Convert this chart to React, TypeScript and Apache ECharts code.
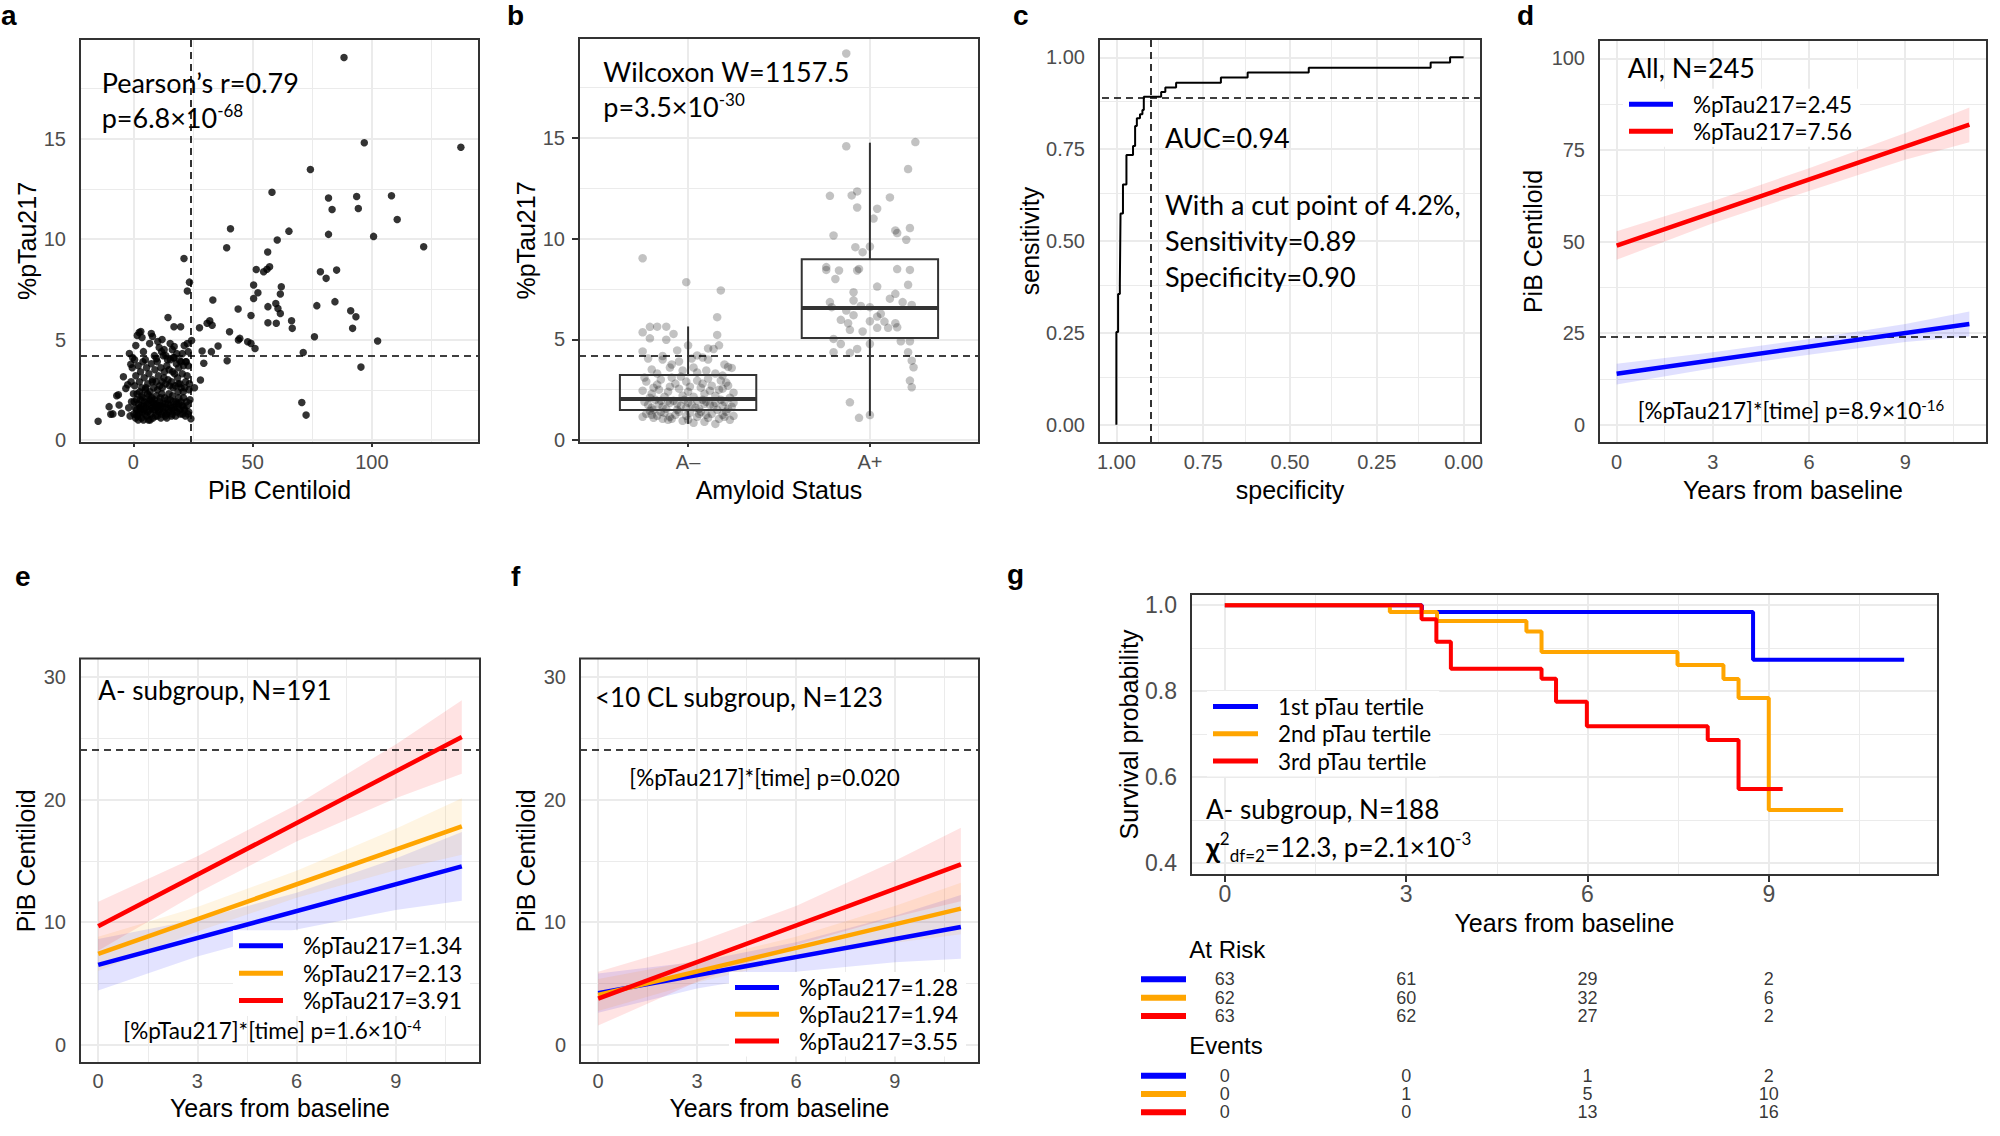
import React, { useEffect, useRef } from "react";
import * as echarts from "echarts";

const SANS = "'Liberation Sans', Arial, Helvetica, sans-serif";
const CAL = "Lato, 'Open Sans', 'DejaVu Sans', sans-serif";
const BLUE = "#0000ff";
const ORANGE = "#ffa500";
const RED = "#ff0000";
const GRIDC = "#ebebeb";

// ================= Panel a: %pTau217 vs PiB Centiloid =================
const pibVsPtau: number[][] = [
  // low cluster
  [0.2,1.3],[0.8,1.6],[1.3,2.0],[1.7,1.2],[2.1,1.8],[2.6,2.4],[3.0,1.5],[3.4,1.1],[3.9,2.1],[4.3,1.7],[4.8,1.3],[5.2,2.6],[5.7,1.9],[6.1,1.4],[6.6,2.2],[7.0,1.0],[7.4,1.7],[7.9,2.9],[8.3,1.5],[8.8,2.0],[9.2,1.2],[9.7,1.8],[10.1,2.5],[10.6,1.4],[11.0,1.9],[11.5,1.1],[11.9,2.3],[12.4,1.6],[12.8,3.1],[13.3,1.8],[13.7,1.3],[14.2,2.0],[14.6,1.5],[15.1,2.7],[15.5,1.7],[16.0,1.2],[16.4,2.2],[16.9,1.6],[17.3,3.3],[17.8,1.9],[18.2,1.4],[18.7,2.4],[19.1,1.8],[19.6,1.3],[20.0,2.6],[20.5,1.7],[21.0,2.1],[21.4,1.5],[21.9,2.9],[22.3,1.9],[22.8,1.3],[23.3,2.5],[23.7,2.0],[24.1,1.06],
  [0.5,2.7],[1.0,3.2],[1.5,2.3],[2.0,3.7],[2.5,2.9],[3.0,3.4],[3.5,2.6],[4.0,3.9],[4.5,3.1],[5.0,2.5],[5.5,3.6],[6.0,2.8],[6.5,3.3],[7.0,2.4],[7.5,3.8],[8.0,3.0],[8.5,2.6],[9.0,3.5],[9.5,2.9],[10.0,3.9],[10.5,3.2],[11.0,2.7],[11.5,3.6],[12.0,2.9],[12.5,4.2],[13.0,3.4],[13.5,2.8],[14.0,3.7],[14.5,3.0],[15.0,3.5],[15.5,4.0],[16.0,2.9],[16.5,3.4],[17.0,4.1],[17.5,2.7],[18.0,3.8],[18.5,3.1],[19.0,3.6],[19.5,2.8],[20.0,3.9],[20.5,3.3],[21.0,3.7],[21.5,2.6],[22.0,3.9],[22.5,3.2],[23.0,3.7],[23.5,2.8],
  [0.3,1.9],[0.9,1.1],[1.4,1.5],[2.0,1.0],[2.4,1.3],[2.9,2.0],[3.3,1.7],[3.8,1.4],[4.2,1.0],[4.7,1.9],[5.1,1.6],[5.6,1.2],[6.0,1.8],[6.5,1.5],[6.9,2.0],[7.3,1.3],[7.8,1.6],[8.2,1.1],[8.7,1.8],[9.1,1.5],[9.6,2.2],[10.0,1.2],[10.4,1.7],[10.9,1.5],[11.3,2.1],[11.8,1.3],[12.2,1.8],[12.7,1.4],[13.1,2.1],[13.6,1.6],[14.0,1.1],[14.5,1.8],[15.0,1.4],[15.4,2.0],[15.9,1.6],[16.3,1.3],[16.8,1.9],[17.2,1.5],[17.7,1.2],[18.1,1.8],[18.6,1.6],[19.0,2.1],[19.5,1.5],[20.0,1.9],[20.6,1.3],[21.2,1.6],[21.8,1.2],[22.5,1.7],[23.2,1.4],[1.2,1.3],[2.7,1.6],[4.5,1.5],[6.3,1.0],[8.0,1.9],[9.9,1.6],[11.6,1.7],[13.4,1.2],[5.9,2.3],[3.6,2.2],[7.7,2.1],[12.1,2.6],[14.9,2.3],[16.6,2.6],[18.9,2.8],[20.9,2.4],[0.0,2.3],[-0.5,3.6],
  [-10.2,1.66],[-9.5,1.28],[-8.6,1.3],[-7.0,2.2],[-6.0,1.74],[-6.3,2.25],[-5.0,1.33],[-4.2,3.15],[-3.2,2.57],[-2.4,2.75],[-1.7,4.31],[-1.1,3.77],[-1.4,1.2],[-0.8,1.9],[-2.0,1.6],[-1.0,2.9],[-0.3,4.1],
  [0.5,4.0],[1.0,4.7],[1.6,5.2],[2.4,5.35],[3.1,5.4],[3.6,5.1],[4.2,4.4],[5.0,4.0],[7.5,5.3],[8.0,5.15],[6.8,4.8],[8.8,4.2],[9.6,4.05],[10.8,4.6],[11.8,4.4],[12.9,4.5],[13.6,4.2],[15.4,4.8],[16.3,4.5],[17.1,4.65],[16.8,4.1],[18.2,4.3],[19.4,3.95],[21.3,4.7],[22.1,3.9],[22.6,4.8],[24.4,4.95],[20.5,4.3],[23.0,4.4],[14.3,4.0],[12.0,5.0],[10.2,4.9],
  // upper / right
  [88.3,19.05],[96.8,14.8],[137.3,14.58],[74.2,13.47],[58.1,12.34],[81.8,12.05],[93.6,12.13],[108.2,12.16],[83.3,11.48],[94.3,11.53],[110.6,10.98],[40.7,10.52],[65.2,10.4],[81.8,10.24],[100.7,10.14],[60.3,9.96],[39.1,9.57],[121.7,9.62],[56.3,9.36],[21.2,9.04],[78.4,8.38],[85.2,8.46],[80.8,8.05],[51.5,8.49],[54.6,8.38],[56,8.5],[57.1,8.63],[23.5,7.86],[22.6,7.42],[50.4,7.72],[52.2,7.33],[50.4,7.05],[62,7.63],[61.6,7.27],[33.3,6.97],[76.9,6.69],[84.5,6.89],[56.4,6.64],[59.7,6.8],[60.6,6.55],[61.6,6.3],[43.9,6.52],[49.3,6.2],[91.1,6.44],[93.3,6.14],[14.5,6.1],[66.3,5.94],[66.6,5.56],[56.4,5.84],[59.9,5.81],[91.9,5.56],[17,5.64],[19.8,5.64],[27.7,5.59],[30.9,5.81],[32,5.94],[33,5.72],[40.3,5.39],[44,4.98],[44.6,5.06],[47.9,4.89],[49.3,4.81],[51,4.56],[75.9,5.14],[102.4,4.93],[71.2,4.36],[28.8,4.43],[32.7,4.4],[35.5,4.68],[29.5,3.82],[39.3,3.95],[95.4,3.63],[28.1,2.99],[25.6,2.6],[70.6,1.87],[72.4,1.24],[-14.8,0.93]
];
const ptauCut = 4.2;
const pibCut = 24;

// ================= Panel b: boxplot by amyloid status =================
const amyloidCats = ["A–", "A+"];
// [jitter offset from category, %pTau217]
const jitterNeg: number[][] = [
  [-0.25,9.03],[-0.01,7.84],[0.18,7.43],[0.16,6.1],[0.16,5.22],[-0.21,5.62],[-0.17,5.63],[-0.12,5.63],[-0.25,5.35],[-0.21,5.05],[-0.12,4.98],[-0.08,5.27],[0.0,4.7],[0.17,4.7],[0.14,4.52],[-0.25,4.4],[0.11,4.55],[-0.22,4.05],[-0.14,4.17],[-0.14,4.0],[-0.05,3.9],[0.05,4.2],[0.08,4.1],[0.11,4.0],[0.2,3.75],[0.24,3.58],[0.22,3.63],[-0.2,3.5],[-0.17,3.3],[-0.1,3.6],[-0.03,3.45],[0.03,3.6],[0.1,3.45],[0.15,3.3],[0.19,3.2],[-0.24,3.1],[0.05,3.35],[-0.06,4.45],[0.02,4.05],[-0.09,3.75],
  [-0.23,2.9],[-0.19,2.6],[-0.15,3.0],[-0.11,2.4],[-0.07,2.8],[-0.03,2.2],[0.01,2.65],[0.05,2.95],[0.09,2.3],[0.13,2.7],[0.17,2.5],[0.21,2.85],[0.25,2.35],[-0.25,2.45],[-0.21,2.1],[-0.17,2.75],[-0.13,2.15],[-0.09,3.1],[-0.05,2.55],[-0.01,2.9],[0.03,2.15],[0.07,2.6],[0.11,3.05],[0.15,2.2],[0.19,2.55],[0.23,2.1],[-0.2,2.3],[-0.1,2.65],[0.0,2.4],[0.08,2.8],[0.18,2.95],[-0.16,2.5],[0.12,2.45],[-0.04,3.15],[0.22,2.7],
  [-0.24,1.9],[-0.2,1.6],[-0.16,1.8],[-0.12,1.55],[-0.08,1.95],[-0.04,1.7],[0.0,1.85],[0.04,1.6],[0.08,2.0],[0.12,1.75],[0.16,1.5],[0.2,1.9],[0.24,1.65],[-0.22,1.75],[-0.18,2.0],[-0.14,1.65],[-0.1,1.85],[-0.06,1.5],[-0.02,2.0],[0.02,1.75],[0.06,1.55],[0.1,1.9],[0.14,1.7],[0.18,2.0],[0.22,1.55],[-0.19,1.5],[-0.11,1.95],[-0.01,1.6],[0.09,1.8],[0.19,1.7],[-0.06,1.8],[0.05,1.95],[0.15,1.85],[-0.15,1.95],[0.25,1.85],
  [-0.23,1.3],[-0.19,1.1],[-0.15,1.4],[-0.11,1.0],[-0.07,1.25],[-0.03,0.95],[0.01,1.35],[0.05,1.15],[0.09,0.9],[0.13,1.3],[0.17,1.05],[0.21,1.4],[0.25,1.2],[-0.25,1.15],[-0.21,1.45],[-0.17,1.2],[-0.13,1.35],[-0.09,1.05],[-0.05,1.4],[-0.01,1.2],[0.03,0.85],[0.07,1.4],[0.11,1.1],[0.15,0.8],[0.19,1.25],[0.23,1.0],[-0.2,1.25],[-0.1,1.15],[0.0,1.0],[0.1,1.25],[0.2,1.15],[-0.14,1.05],[0.06,1.3]
];
const jitterPos: number[][] = [
  [-0.13,19.2],[-0.13,14.59],[0.25,14.8],[0.21,13.46],[-0.22,12.13],[-0.1,12.15],[-0.07,12.35],[0.11,12.05],[-0.07,11.55],[0.04,11.49],[0.02,11.0],[-0.2,10.16],[0.14,10.41],[0.15,10.28],[0.22,10.53],[0.2,9.95],[-0.08,9.58],[-0.04,9.33],[0.0,9.61],[-0.24,8.59],[-0.24,8.45],[-0.17,8.42],[-0.07,8.42],[-0.06,8.5],[0.15,8.49],[0.22,8.45],[-0.19,8.0],[0.04,7.62],[0.21,7.71],[-0.09,7.34],[0.14,7.26],[0.11,7.02],[0.18,6.85],[0.23,6.71],[-0.22,6.85],[-0.09,6.93],[-0.21,6.6],[-0.05,6.66],[0.0,6.6],[-0.13,6.43],[-0.09,6.2],[0.06,6.27],[0.04,6.13],[-0.16,5.97],[-0.12,5.8],[0.0,5.9],[0.08,5.88],[0.14,5.8],[-0.11,5.47],[-0.04,5.39],[0.04,5.57],[0.1,5.57],[0.15,5.6],[-0.2,5.02],[-0.16,4.77],[0.0,4.77],[0.17,4.9],[0.22,4.9],[-0.2,4.36],[-0.11,4.33],[-0.07,4.52],[0.21,4.36],[0.23,3.94],[0.24,3.61],[0.22,2.95],[0.23,2.62],[-0.11,1.87],[-0.06,1.1],[0.0,1.24]
];
// [lower whisker, Q1, median, Q3, upper whisker]
const boxNeg = [0.8, 1.49, 2.04, 3.23, 5.64];
const boxPos = [1.2, 5.07, 6.56, 8.98, 14.77];

// ================= Panel c: ROC =================
const rocSpec = [1, 1, 0.995, 0.99, 0.988, 0.981, 0.971, 0.952, 0.946, 0.941, 0.932, 0.925, 0.921, 0.871, 0.859, 0.828, 0.699, 0.622, 0.446, 0.095, 0.039, 0];
const rocSens = [0, 0.252, 0.356, 0.384, 0.575, 0.654, 0.734, 0.759, 0.813, 0.834, 0.845, 0.857, 0.893, 0.906, 0.918, 0.931, 0.945, 0.959, 0.972, 0.986, 1, 1];
const specCut = 0.9;
const sensCut = 0.89;

// ================= Panels d, e, f: PiB trajectories =================
const lineTimes = [0, 11];
const bandTimes = [0, 3, 6, 9, 11];
const amyCut = 24.1;
// d
const dBlueLine = [13.9, 27.5];
const dBlueLo = [11, 15.4, 19.1, 22.6, 24.1];
const dBlueHi = [16.6, 19.8, 23.4, 27.5, 30.9];
const dRedLine = [48.9, 81.9];
const dRedLo = [45, 55, 63.8, 72.3, 77.1];
const dRedHi = [52.8, 61, 70, 79.6, 86.6];
// e
const eBlueLine = [6.51, 14.55];
const eBlueLo = [4.41, 7.2, 9.4, 10.99, 11.75];
const eBlueHi = [8.61, 10.2, 12.4, 15.19, 17.35];
const eOrangeLine = [7.41, 17.8];
const eOrangeLo = [6.01, 9.24, 11.98, 14.22, 15.5];
const eOrangeHi = [8.81, 11.24, 14.18, 17.62, 20.1];
const eRedLine = [9.66, 25.1];
const eRedLo = [7.66, 12.37, 16.58, 20.1, 22.1];
const eRedHi = [11.66, 15.37, 19.58, 24.5, 28.1];
// f
const fBlueLine = [4.2, 9.6];
const fBlueLo = [2.6, 4.57, 5.95, 6.72, 7.0];
const fBlueHi = [5.8, 6.77, 8.35, 10.52, 12.2];
const fOrangeLine = [4.05, 11.1];
const fOrangeLo = [2.75, 5.07, 7.0, 8.32, 9.0];
const fOrangeHi = [5.35, 6.87, 8.8, 11.32, 13.2];
const fRedLine = [3.75, 14.7];
const fRedLo = [1.55, 5.14, 8.12, 10.41, 11.7];
const fRedHi = [5.95, 8.34, 11.32, 15.01, 17.7];

// ================= Panel g: Kaplan-Meier =================
const km1T = [0, 3.26, 8.74, 11.24];
const km1S = [1, 0.984, 0.873, 0.873];
const km2T = [0, 2.73, 3.51, 4.99, 5.24, 7.49, 8.25, 8.5, 9.0, 10.23];
const km2S = [1, 0.984, 0.963, 0.939, 0.891, 0.861, 0.828, 0.784, 0.523, 0.523];
const km3T = [0, 3.255, 3.5, 3.74, 5.24, 5.48, 5.99, 7.99, 8.5, 9.23];
const km3S = [1, 0.967, 0.915, 0.852, 0.829, 0.775, 0.718, 0.686, 0.572, 0.572];
const riskTimes = [0, 3, 6, 9];
const atRisk1 = [63, 61, 29, 2];
const atRisk2 = [62, 60, 32, 6];
const atRisk3 = [63, 62, 27, 2];
const events1 = [0, 0, 1, 2];
const events2 = [0, 1, 5, 10];
const events3 = [0, 0, 13, 16];

// ================= helpers =================
const zip = (a: number[], b: number[]) => a.map((v, i) => [v, b[i]]);

const TABLE_ROW_H = 18.3;
const RISK_TOP = 970.2;
const EVENTS_TOP = 1066.5;

const panels: any[] = [
  { grid: { left: 80, top: 39, width: 399, height: 404 },
    x: { min: -22.4, max: 144.9, ticks: [0, 50, 100], minor: [25, 75, 125], name: "PiB Centiloid", gap: 34 },
    y: { min: -0.15, max: 19.97, ticks: [0, 5, 10, 15], minor: [2.5, 7.5, 12.5, 17.5], name: "%pTau217", gap: 40 } },
  { grid: { left: 579, top: 38, width: 400, height: 405 },
    x: { min: 0.4, max: 2.6, ticks: [1, 2], minor: [], name: "Amyloid Status", gap: 34, fmt: (v: number) => amyloidCats[Math.round(v) - 1] },
    y: { min: -0.15, max: 19.97, ticks: [0, 5, 10, 15], minor: [2.5, 7.5, 12.5, 17.5], name: "%pTau217", gap: 40 } },
  { grid: { left: 1099, top: 39, width: 382, height: 404 },
    x: { min: -0.05, max: 1.05, inverse: true, ticks: [0, 0.25, 0.5, 0.75, 1], minor: [0.125, 0.375, 0.625, 0.875], name: "specificity", gap: 34, fmt: (v: number) => v.toFixed(2) },
    y: { min: -0.05, max: 1.05, ticks: [0, 0.25, 0.5, 0.75, 1], minor: [0.125, 0.375, 0.625, 0.875], name: "sensitivity", gap: 56, fmt: (v: number) => v.toFixed(2) } },
  { grid: { left: 1599, top: 40, width: 388, height: 403 },
    x: { min: -0.55, max: 11.55, ticks: [0, 3, 6, 9], minor: [1.5, 4.5, 7.5, 10.5], name: "Years from baseline", gap: 34 },
    y: { min: -5, max: 105, ticks: [0, 25, 50, 75, 100], minor: [12.5, 37.5, 62.5, 87.5], name: "PiB Centiloid", gap: 54 } },
  { grid: { left: 80, top: 658.6, width: 400, height: 404.4 }, margin: 8,
    x: { min: -0.55, max: 11.55, ticks: [0, 3, 6, 9], minor: [1.5, 4.5, 7.5, 10.5], name: "Years from baseline", gap: 32 },
    y: { min: -1.5, max: 31.5, ticks: [0, 10, 20, 30], minor: [5, 15, 25], name: "PiB Centiloid", gap: 42 } },
  { grid: { left: 580, top: 658.6, width: 399, height: 404.4 }, margin: 8,
    x: { min: -0.55, max: 11.55, ticks: [0, 3, 6, 9], minor: [1.5, 4.5, 7.5, 10.5], name: "Years from baseline", gap: 32 },
    y: { min: -1.5, max: 31.5, ticks: [0, 10, 20, 30], minor: [5, 15, 25], name: "PiB Centiloid", gap: 42 } },
  { grid: { left: 1191, top: 594, width: 747, height: 281 }, font: 23, margin: 7,
    x: { min: -0.56, max: 11.8, ticks: [0, 3, 6, 9], minor: [1.5, 4.5, 7.5, 10.5], name: "Years from baseline", gap: 35 },
    y: { min: 0.372, max: 1.026, ticks: [0.4, 0.6, 0.8, 1.0], minor: [0.5, 0.7, 0.9], name: "Survival probability", gap: 50, fmt: (v: number) => v.toFixed(1) } },
];

function makeAxis(i: number, a: any, font: number, margin: number) {
  const fmt = a.fmt || ((v: number) => String(v));
  return {
    type: "value", gridIndex: i, min: a.min, max: a.max, inverse: !!a.inverse,
    splitLine: { show: false },
    axisLine: { show: false },
    axisTick: { show: true, length: 7, lineStyle: { color: "#333", width: 2 }, customValues: a.ticks },
    axisLabel: {
      show: true, customValues: a.ticks, color: "#4d4d4d", fontSize: font, fontFamily: SANS, margin,
      formatter: (v: number) => (a.ticks.some((t: number) => Math.abs(t - v) < 1e-9) ? fmt(v) : ""),
    },
    name: a.name, nameLocation: "middle", nameGap: a.gap,
    nameTextStyle: { fontFamily: SANS, fontSize: 25, color: "#000" },
  };
}

function gridLines(i: number, p: any) {
  const d: any[] = [];
  p.x.ticks.forEach((v: number) => d.push({ xAxis: v, lineStyle: { color: GRIDC, width: 2, type: "solid" } }));
  p.x.minor.forEach((v: number) => d.push({ xAxis: v, lineStyle: { color: GRIDC, width: 1, type: "solid" } }));
  p.y.ticks.forEach((v: number) => d.push({ yAxis: v, lineStyle: { color: GRIDC, width: 2, type: "solid" } }));
  p.y.minor.forEach((v: number) => d.push({ yAxis: v, lineStyle: { color: GRIDC, width: 1, type: "solid" } }));
  return {
    type: "line", xAxisIndex: i, yAxisIndex: i, silent: true, z: 1,
    data: [[p.x.ticks[0], p.y.ticks[0]]], showSymbol: false, lineStyle: { width: 0 },
    markLine: { z: 1, silent: true, symbol: ["none", "none"], label: { show: false }, emphasis: { disabled: true }, data: d },
  };
}

function refLines(i: number, xs: number[], ys: number[]) {
  const d: any[] = [];
  xs.forEach((v) => d.push({ xAxis: v }));
  ys.forEach((v) => d.push({ yAxis: v }));
  return {
    type: "line", xAxisIndex: i, yAxisIndex: i, silent: true, z: 3,
    data: [[xs.length ? xs[0] : 0, ys.length ? ys[0] : 0]], showSymbol: false, lineStyle: { width: 0 },
    markLine: {
      z: 3, silent: true, symbol: ["none", "none"], label: { show: false }, emphasis: { disabled: true },
      lineStyle: { color: "#000", type: [7, 5], width: 1.6 }, data: d,
    },
  };
}

function band(i: number, lo: number[], hi: number[], color: string) {
  return {
    type: "custom", xAxisIndex: i, yAxisIndex: i, silent: true, z: 2, clip: true,
    data: [[bandTimes[0], lo[0]]],
    renderItem: (_params: any, api: any) => {
      const pts: number[][] = [];
      bandTimes.forEach((t, k) => pts.push(api.coord([t, hi[k]])));
      for (let k = bandTimes.length - 1; k >= 0; k--) pts.push(api.coord([bandTimes[k], lo[k]]));
      return { type: "polygon", shape: { points: pts }, style: { fill: color } };
    },
  };
}

function fitLine(i: number, name: string, vals: number[], color: string) {
  return {
    type: "line", name, xAxisIndex: i, yAxisIndex: i, z: 4, silent: true,
    data: zip(lineTimes, vals), showSymbol: false, symbol: "none",
    lineStyle: { width: 4.5, color }, itemStyle: { color, borderWidth: 0 },
  };
}

function kmLine(name: string, t: number[], s: number[], color: string) {
  return {
    type: "line", name, xAxisIndex: 6, yAxisIndex: 6, z: 4, silent: true, step: "end",
    data: zip(t, s), showSymbol: false, symbol: "none",
    lineStyle: { width: 4, color }, itemStyle: { color, borderWidth: 0 },
  };
}

function tableSeries(i: number, rows: number[][]) {
  const data: number[][] = [];
  rows.forEach((row, r) => row.forEach((n, k) => data.push([riskTimes[k], r, n])));
  return {
    type: "scatter", xAxisIndex: i, yAxisIndex: i, silent: true, symbolSize: 1,
    itemStyle: { color: "rgba(0,0,0,0)" }, data,
    label: { show: true, position: "inside", formatter: (p: any) => String(p.value[2]), fontFamily: SANS, fontSize: 18, lineHeight: 18, color: "#000" },
  };
}

function legendCfg(names: string[], colors: string[], left: number, top: number, lh: number, iw: number) {
  return {
    data: names.map((n, k) => ({ name: n, itemStyle: { color: colors[k], borderWidth: 0, opacity: 1 } })),
    left: left - 6, top: top - 2, orient: "vertical", padding: [2, 8, 2, 6], itemGap: 0, itemWidth: iw, itemHeight: 5,
    icon: "rect", selectedMode: false, backgroundColor: "#ffffff", z: 8,
    itemStyle: { borderWidth: 0 },
    textStyle: { fontFamily: CAL, fontSize: 22.5, color: "#000", lineHeight: lh, padding: [0, 0, 0, 15] },
  };
}

function txt(x: number, y: number, text: string, size: number, family = CAL, rich?: any, weight = "normal") {
  return {
    type: "text", x, y, z: 50, silent: true,
    style: { text, fontSize: size, fontFamily: family, fontWeight: weight, fill: "#000", align: "left", verticalAlign: "middle", rich },
  };
}

function supRich(size: number, lh: number, supSize: number) {
  return {
    n: { fontFamily: CAL, fontSize: size, lineHeight: lh, verticalAlign: "middle", color: "#000" },
    s: { fontFamily: CAL, fontSize: supSize, lineHeight: Math.round(lh * 0.62), verticalAlign: "top", color: "#000" },
  };
}

function buildOption() {
  const grids: any[] = panels.map((p) => ({ ...p.grid, show: true, borderColor: "#333", borderWidth: 2, backgroundColor: "transparent", z: 6 }));
  grids.push({ left: 1191, width: 747, top: RISK_TOP, height: TABLE_ROW_H * 3, show: false });
  grids.push({ left: 1191, width: 747, top: EVENTS_TOP, height: TABLE_ROW_H * 3, show: false });

  const xAxis: any[] = panels.map((p, i) => makeAxis(i, p.x, p.font || 20, p.margin || 9));
  const yAxis: any[] = panels.map((p, i) => makeAxis(i, p.y, p.font || 20, 14));
  [7, 8].forEach((gi) => {
    xAxis.push({ type: "value", gridIndex: gi, min: -0.56, max: 11.8, show: false });
    yAxis.push({ type: "category", gridIndex: gi, data: ["1", "2", "3"], inverse: true, show: false });
  });

  const series: any[] = [];
  panels.forEach((p, i) => series.push(gridLines(i, p)));

  // a
  series.push(refLines(0, [pibCut], [ptauCut]));
  series.push({ type: "scatter", xAxisIndex: 0, yAxisIndex: 0, z: 4, silent: true, symbolSize: 7.5, itemStyle: { color: "#000" }, data: pibVsPtau });

  // b
  series.push(refLines(1, [], [ptauCut]));
  series.push({
    type: "scatter", xAxisIndex: 1, yAxisIndex: 1, z: 3, silent: true, symbolSize: 8.5,
    itemStyle: { color: "rgba(0,0,0,0.3)" },
    data: [...jitterNeg.map(([o, v]) => [1 + o, v]), ...jitterPos.map(([o, v]) => [2 + o, v])],
  });
  series.push({
    type: "custom", xAxisIndex: 1, yAxisIndex: 1, z: 4, silent: true,
    data: [[1, ...boxNeg], [2, ...boxPos]],
    encode: { x: 0, y: [1, 2, 3, 4, 5] },
    renderItem: (_params: any, api: any) => {
      const x = api.value(0);
      const hw = 0.375;
      const [xl, yq3] = api.coord([x - hw, api.value(4)]);
      const [xr, yq1] = api.coord([x + hw, api.value(2)]);
      const [xc, ylo] = api.coord([x, api.value(1)]);
      const yhi = api.coord([x, api.value(5)])[1];
      const ymed = api.coord([x, api.value(3)])[1];
      const st = { stroke: "#333", lineWidth: 2, fill: "none" };
      return {
        type: "group",
        children: [
          { type: "line", shape: { x1: xc, y1: yhi, x2: xc, y2: yq3 }, style: st },
          { type: "line", shape: { x1: xc, y1: yq1, x2: xc, y2: ylo }, style: st },
          { type: "rect", shape: { x: xl, y: yq3, width: xr - xl, height: yq1 - yq3 }, style: st },
          { type: "line", shape: { x1: xl, y1: ymed, x2: xr, y2: ymed }, style: { stroke: "#333", lineWidth: 4 } },
        ],
      };
    },
  });

  // c
  series.push(refLines(2, [specCut], [sensCut]));
  series.push({
    type: "line", xAxisIndex: 2, yAxisIndex: 2, z: 4, silent: true, step: "end",
    data: zip(rocSpec, rocSens), showSymbol: false, symbol: "none", lineStyle: { width: 2, color: "#000" },
  });

  // d
  series.push(band(3, dBlueLo, dBlueHi, "rgba(0,0,255,0.12)"));
  series.push(band(3, dRedLo, dRedHi, "rgba(255,0,0,0.12)"));
  series.push(refLines(3, [], [amyCut]));
  series.push(fitLine(3, "%pTau217=2.45", dBlueLine, BLUE));
  series.push(fitLine(3, "%pTau217=7.56", dRedLine, RED));

  // e
  series.push(band(4, eBlueLo, eBlueHi, "rgba(0,0,255,0.11)"));
  series.push(band(4, eOrangeLo, eOrangeHi, "rgba(255,165,0,0.11)"));
  series.push(band(4, eRedLo, eRedHi, "rgba(255,0,0,0.11)"));
  series.push(refLines(4, [], [amyCut]));
  series.push(fitLine(4, "%pTau217=1.34", eBlueLine, BLUE));
  series.push(fitLine(4, "%pTau217=2.13", eOrangeLine, ORANGE));
  series.push(fitLine(4, "%pTau217=3.91", eRedLine, RED));

  // f
  series.push(band(5, fBlueLo, fBlueHi, "rgba(0,0,255,0.11)"));
  series.push(band(5, fOrangeLo, fOrangeHi, "rgba(255,165,0,0.11)"));
  series.push(band(5, fRedLo, fRedHi, "rgba(255,0,0,0.11)"));
  series.push(refLines(5, [], [amyCut]));
  series.push(fitLine(5, "%pTau217=1.28", fBlueLine, BLUE));
  series.push(fitLine(5, "%pTau217=1.94", fOrangeLine, ORANGE));
  series.push(fitLine(5, "%pTau217=3.55", fRedLine, RED));

  // g
  series.push(kmLine("1st pTau tertile", km1T, km1S, BLUE));
  series.push(kmLine("2nd pTau tertile", km2T, km2S, ORANGE));
  series.push(kmLine("3rd pTau tertile", km3T, km3S, RED));
  series.push(tableSeries(7, [atRisk1, atRisk2, atRisk3]));
  series.push(tableSeries(8, [events1, events2, events3]));

  const legend = [
    legendCfg(["%pTau217=2.45", "%pTau217=7.56"], [BLUE, RED], 1629, 90.8, 27, 44),
    legendCfg(["%pTau217=1.34", "%pTau217=2.13", "%pTau217=3.91"], [BLUE, ORANGE, RED], 239, 932.2, 27.3, 44),
    legendCfg(["%pTau217=1.28", "%pTau217=1.94", "%pTau217=3.55"], [BLUE, ORANGE, RED], 735, 974, 26.8, 44),
    legendCfg(["1st pTau tertile", "2nd pTau tertile", "3rd pTau tertile"], [BLUE, ORANGE, RED], 1213, 693, 27.2, 45),
  ];

  const big = supRich(27, 30, 17);
  const small = supRich(22.5, 26, 15);
  const chiRich = {
    c: { fontFamily: CAL, fontSize: 28, fontWeight: "bold", lineHeight: 34, verticalAlign: "middle", color: "#000" },
    n: { fontFamily: CAL, fontSize: 26, lineHeight: 34, verticalAlign: "middle", color: "#000" },
    s: { fontFamily: CAL, fontSize: 17, lineHeight: 20, verticalAlign: "top", color: "#000" },
    b: { fontFamily: CAL, fontSize: 17, lineHeight: 16, verticalAlign: "bottom", color: "#000" },
  };

  const rowY = (top: number, r: number) => top + TABLE_ROW_H * (r + 0.5);
  const tableRects: any[] = [];
  [RISK_TOP, EVENTS_TOP].forEach((top) =>
    [BLUE, ORANGE, RED].forEach((c, r) =>
      tableRects.push({ type: "rect", x: 1141, y: rowY(top, r) - 3, shape: { width: 45, height: 6 }, style: { fill: c }, silent: true })
    )
  );

  const graphic: any[] = [
    txt(1, 15, "a", 28, SANS, undefined, "bold"),
    txt(507, 15, "b", 28, SANS, undefined, "bold"),
    txt(1013, 15, "c", 28, SANS, undefined, "bold"),
    txt(1517, 15, "d", 28, SANS, undefined, "bold"),
    txt(15, 576, "e", 28, SANS, undefined, "bold"),
    txt(511, 576, "f", 28, SANS, undefined, "bold"),
    txt(1007, 574, "g", 28, SANS, undefined, "bold"),

    txt(101.7, 82.5, "Pearson’s r=0.79", 27),
    txt(101.7, 117, "{n|p=6.8×10}{s|-68}", 27, CAL, big),
    txt(603.3, 71, "Wilcoxon W=1157.5", 27),
    txt(603.3, 106, "{n|p=3.5×10}{s|-30}", 27, CAL, big),
    txt(1165, 137.7, "AUC=0.94", 27),
    txt(1165, 204, "With a cut point of 4.2%,", 27),
    txt(1165, 240, "Sensitivity=0.89", 27),
    txt(1165, 276, "Specificity=0.90", 27),
    txt(1627.7, 67.3, "All, N=245", 27),
    txt(1637.7, 410, "{n|[%pTau217]*[time] p=8.9×10}{s|-16}", 22.5, CAL, small),
    txt(98.3, 690, "A- subgroup, N=191", 26),
    txt(123.3, 1030, "{n|[%pTau217]*[time] p=1.6×10}{s|-4}", 22.5, CAL, small),
    txt(595, 697, "<10 CL subgroup, N=123", 26),
    txt(629.3, 777, "[%pTau217]*[time] p=0.020", 22.5),
    txt(1206, 809.3, "A- subgroup, N=188", 26),
    txt(1206, 846.7, "{c|χ}{s|2}{b|df=2}{n|=12.3, p=2.1×10}{s|-3}", 26, CAL, chiRich),

    txt(1189.3, 949.3, "At Risk", 24, SANS),
    txt(1189.3, 1045.7, "Events", 24, SANS),
    ...tableRects,
  ];

  return {
    animation: false,
    backgroundColor: "#ffffff",
    grid: grids,
    xAxis,
    yAxis,
    legend,
    series,
    graphic,
  };
}

export default function App() {
  const ref = useRef<HTMLDivElement>(null);
  useEffect(() => {
    document.body.style.margin = "0";
    const chart = echarts.init(ref.current as HTMLDivElement, null, { renderer: "svg" });
    chart.setOption(buildOption() as any);
    return () => chart.dispose();
  }, []);
  return <div ref={ref} style={{ width: 2000, height: 1136, background: "#fff" }} />;
}
